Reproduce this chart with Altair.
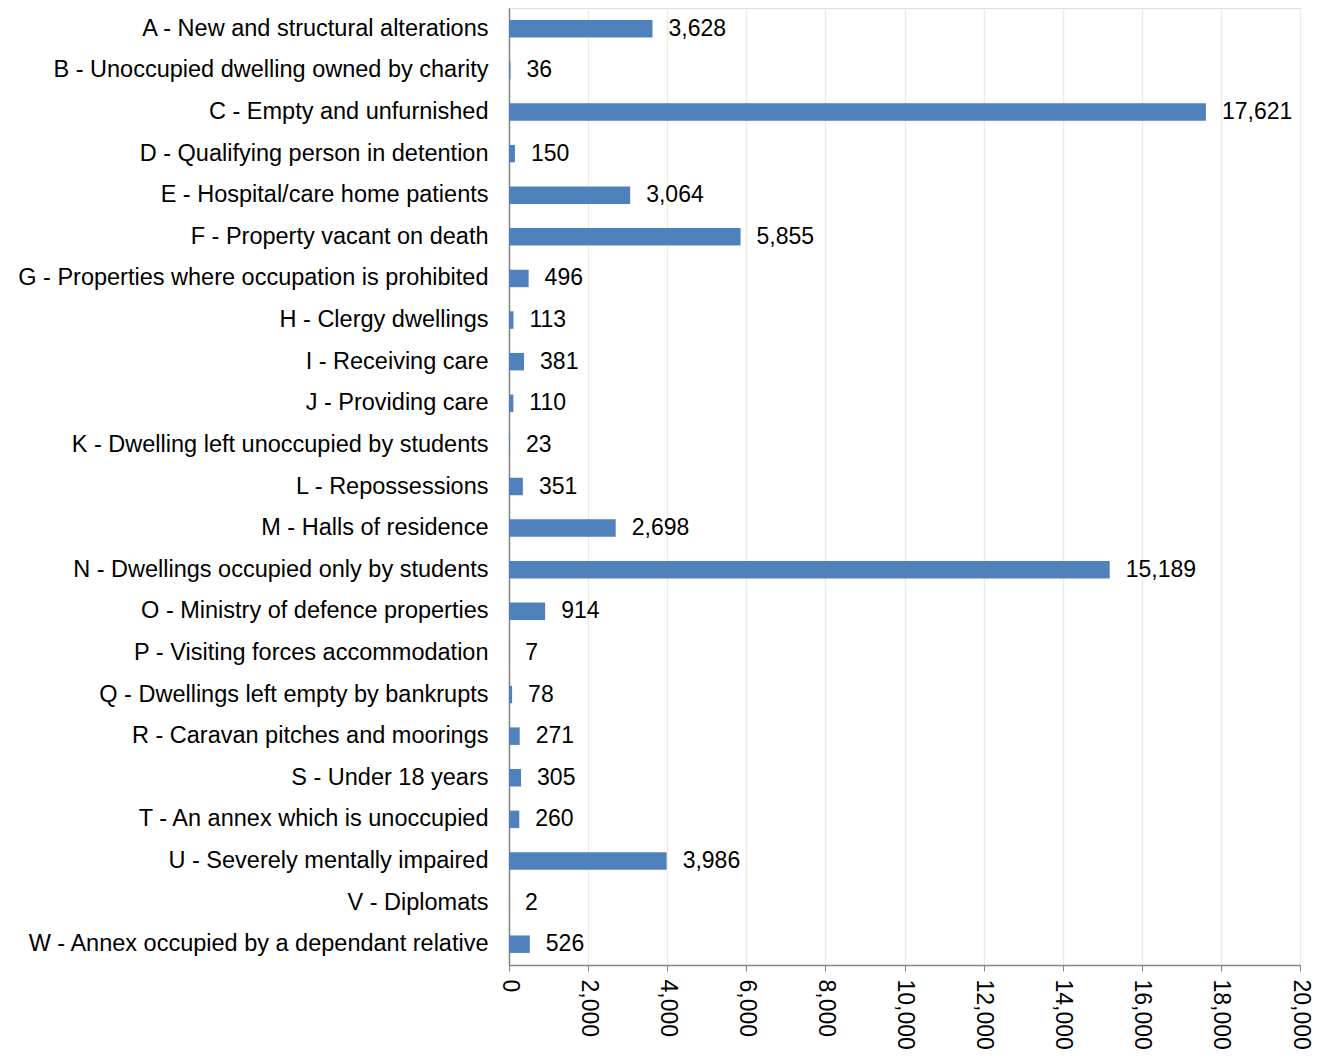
import altair as alt
import pandas as pd

categories = [
    "A - New and structural alterations",
    "B - Unoccupied dwelling owned by charity",
    "C - Empty and unfurnished",
    "D - Qualifying person in detention",
    "E - Hospital/care home patients",
    "F - Property vacant on death",
    "G - Properties where occupation is prohibited",
    "H - Clergy dwellings",
    "I - Receiving care",
    "J - Providing care",
    "K - Dwelling left unoccupied by students",
    "L - Repossessions",
    "M - Halls of residence",
    "N - Dwellings occupied only by students",
    "O - Ministry of defence properties",
    "P - Visiting forces accommodation",
    "Q - Dwellings left empty by bankrupts",
    "R - Caravan pitches and moorings",
    "S - Under 18 years",
    "T - An annex which is unoccupied",
    "U - Severely mentally impaired",
    "V - Diplomats",
    "W - Annex occupied by a dependant relative",
]
values = [3628, 36, 17621, 150, 3064, 5855, 496, 113, 381, 110, 23, 351,
          2698, 15189, 914, 7, 78, 271, 305, 260, 3986, 2, 526]
x_ticks = list(range(0, 20001, 2000))

df = pd.DataFrame({"category": categories, "value": values})

FONT = "Liberation Sans"

y = alt.Y(
    "category:N",
    sort=categories,
    scale=alt.Scale(paddingInner=0.58, paddingOuter=0.29),
    axis=alt.Axis(
        title=None, ticks=False, labelFontSize=23.5, labelColor="#000000",
        labelFont=FONT, labelPadding=21, domainColor="#868686", domainWidth=1.5,
        labelLimit=700,
    ),
)
x = alt.X(
    "value:Q",
    scale=alt.Scale(domain=[0, 20000], nice=False),
    axis=alt.Axis(
        title=None, values=x_ticks, format=",d", labelAngle=90, labelAlign="left",
        labelBaseline="middle", labelFontSize=23, labelFont=FONT, labelColor="#000000",
        labelPadding=8, tickSize=6, tickColor="#868686", domainColor="#868686",
        domainWidth=1.5, gridColor="#EEECE1", gridWidth=1.5,
    ),
)

bars = alt.Chart(df).mark_bar(color="#4F81BD").encode(x=x, y=y)
labels = alt.Chart(df).mark_text(
    align="left", baseline="middle", dx=16, fontSize=23, font=FONT, color="#000000"
).encode(
    x="value:Q",
    y=alt.Y("category:N", sort=categories),
    text=alt.Text("value:Q", format=","),
)

chart = (
    alt.layer(bars, labels)
    .properties(width=791, height=957, padding={"left": 17, "top": 8, "right": 4, "bottom": 2})
    .configure_view(stroke=None)
    .configure(background="#ffffff")
)

chart.save("out.html", embed_options={"renderer": "svg", "actions": False})
